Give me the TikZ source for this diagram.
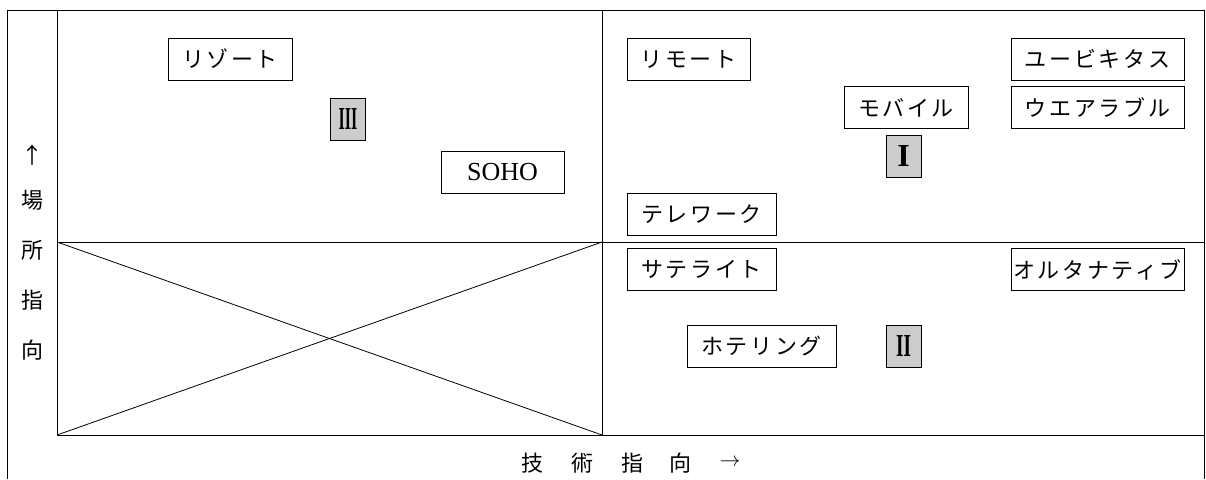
\documentclass[tikz,border=0pt]{standalone}
\usepackage{fontspec}
\setmainfont{Liberation Serif}
\newfontfamily\jp{Noto Sans CJK JP}[LetterSpace=12]
\newfontfamily\jpax{Noto Sans CJK JP}
\begin{document}
\begin{tikzpicture}[x=1pt,y=-1pt,line width=0.8pt,
  lab/.style={draw,fill=white,inner sep=0pt,minimum height=42pt,font=\jp\fontsize{22}{26}\selectfont},
  num/.style={draw,fill=black!20,inner sep=0pt,minimum width=35pt,minimum height=42pt,font=\bfseries\fontsize{32}{36}\selectfont},
  axis/.style={inner sep=0pt,font=\jpax\fontsize{22}{26}\selectfont}]
\useasboundingbox (0,0) rectangle (1206,479);
% outer frame
\draw (7,479) -- (7,10) -- (1204,10) -- (1204,479);
% quadrant frame
\coordinate (TL) at (57,10);
\coordinate (BL) at (57,435);
\coordinate (BR) at (1204,435);
\coordinate (TM) at (602,10);
\coordinate (BM) at (602,435);
\coordinate (ML) at (57,242);
\coordinate (MM) at (602,242);
\coordinate (MR) at (1204,242);
\draw (TL) -- (BL) -- (BR);
\draw (TM) -- (BM);
\draw (ML) -- (MR);
\draw (ML) -- (BM);
\draw (BL) -- (MM);
% boxes
\node[lab,minimum width=124pt] (resort) at (230,59) {リゾート};
\node[num] (n3) at (348,119) {\scalebox{0.5}[1]{III}};
\node[lab,minimum width=123pt,font=\fontsize{26}{28}\selectfont] (soho) at (502.5,172.5) {SOHO};
\node[lab,minimum width=123pt] (remote) at (688.5,59) {リモート};
\node[lab,minimum width=173pt] (ubiq) at (1097.5,59) {ユービキタス};
\node[lab,minimum width=124pt] (mobile) at (906,107.5) {モバイル};
\node[lab,minimum width=173pt] (wear) at (1097.5,107.5) {ウエアラブル};
\node[num] (n1) at (903.5,156) {I};
\node[lab,minimum width=149pt] (tele) at (701.5,214.5) {テレワーク};
\node[lab,minimum width=149pt] (sat) at (701.5,269.5) {サテライト};
\node[lab,minimum width=173pt] (alt) at (1097.5,269.5) {オルタナティブ};
\node[lab,minimum width=149pt] (hotel) at (761.5,346.5) {ホテリング};
\node[num] (n2) at (903.5,346.5) {\scalebox{0.6}[1]{II}};
% axis labels
\node[axis] (up) at (32,155) {\textuparrow};
\node[axis] (y1) at (32,200) {場};
\node[axis] (y2) at (32,250) {所};
\node[axis] (y3) at (32,300) {指};
\node[axis] (y4) at (32,350) {向};
\node[axis] (x1) at (532,463) {技};
\node[axis] (x2) at (582,463) {術};
\node[axis] (x3) at (632,463) {指};
\node[axis] (x4) at (680,463) {向};
\node[axis] (right) at (730,463) {$\rightarrow$};
\end{tikzpicture}
\end{document}
